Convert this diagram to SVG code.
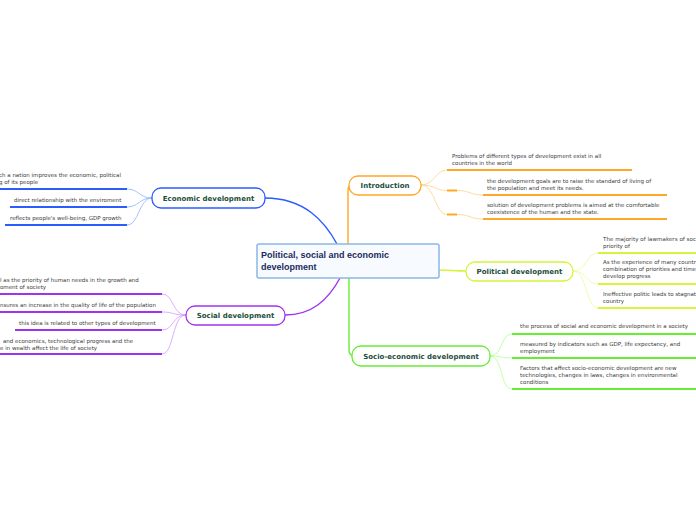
<svg xmlns="http://www.w3.org/2000/svg" width="696" height="520" viewBox="0 0 696 520">
<style>
.bg{fill:#ffffff}
.leaf{font-family:"DejaVu Sans",Verdana,sans-serif;font-size:5.5px;fill:#3c3c3c}
.lbl{font-family:"DejaVu Sans",Verdana,sans-serif;font-size:7px;font-weight:bold;fill:#1d4d3b;text-anchor:middle}
.ctr{font-family:"Liberation Sans",Arial,sans-serif;font-size:9px;font-weight:bold;fill:#1d2a5c}
.node{fill:#ffffff;stroke-width:1.3}
.main{fill:none;stroke-width:1.4}
.thin{fill:none;stroke-width:0.8}
.ul{fill:none;stroke-width:2}
.blue{stroke:#2a5cff}.blueL{stroke:#8fb0ff}
.org{stroke:#ffa726}.orgL{stroke:#ffd28a}
.yg{stroke:#d4f53a}.ygL{stroke:#e8fb9a}
.grn{stroke:#66ee33}.grnL{stroke:#b0ff90}
.pur{stroke:#a033ee}.purL{stroke:#d49bff}
</style>
<rect class="bg" width="696" height="520"/>
<g id="connectors">
  <path class="main blue" d="M265,198 C305,198 325,222 337,244"/>
  <path class="main org" d="M348,244 L348,190 Q348,185 353,185"/>
  <path class="main yg" d="M439,270 C450,270 455,271 466,271"/>
  <path class="main grn" d="M349,278 L349,350 Q349,356 355,356"/>
  <path class="main pur" d="M340,278 C328,300 312,315 285,315"/>
  <path class="thin blueL" d="M152,198 C139,198 139,189 127,189"/>
  <path class="thin blueL" d="M152,198 C139,198 139,207 127,207"/>
  <path class="thin blueL" d="M152,198 C139,198 139,225 127,225"/>
  <path class="ul blue" d="M0,189 H127 M10,207 H127 M5,225 H127"/>
  <path class="thin purL" d="M186,315 C172,315 174,294 162,294"/>
  <path class="thin purL" d="M186,315 C172,315 174,312 162,312"/>
  <path class="thin purL" d="M186,315 C172,315 174,330 162,330"/>
  <path class="thin purL" d="M186,315 C172,315 174,354 162,354"/>
  <path class="ul pur" d="M0,294 H162 M0,312 H162 M15,330 H162 M0,354 H162"/>
  <path class="thin orgL" d="M421,185 C435,185 435,170 447,170"/>
  <path class="thin orgL" d="M421,185 C435,185 435,190.5 447,190.5"/>
  <path class="thin orgL" d="M421,185 C435,185 435,214.5 447,214.5"/>
  <path class="thin orgL" d="M457,190.5 C470,190.5 470,195 483,195"/>
  <path class="thin orgL" d="M457,214.5 C470,214.5 470,219 483,219"/>
  <path class="ul org" d="M447,170 H632 M447,190.5 H457 M447,214.5 H457 M483,195 H667 M483,219 H667"/>
  <path class="thin ygL" d="M573,271 C587,271 586,253 598,253"/>
  <path class="thin ygL" d="M573,271 C587,271 586,284 598,284"/>
  <path class="thin ygL" d="M573,271 C587,271 586,308 598,308"/>
  <path class="ul yg" d="M598,253 H696 M598,284 H696 M598,308 H696"/>
  <path class="thin grnL" d="M490,356 C503,356 500,334 512,334"/>
  <path class="thin grnL" d="M490,356 C503,356 500,358 512,358"/>
  <path class="thin grnL" d="M490,356 C503,356 500,389 512,389"/>
  <path class="ul grn" d="M512,334 H696 M512,358 H696 M512,389 H696"/>
</g>
<g id="center">
  <rect x="257" y="244" width="182" height="34" rx="2" fill="#f7fbff" stroke="#8ab8e6" stroke-width="1.5"/>
  <text class="ctr" x="261" y="258">Political, social and economic</text>
  <text class="ctr" x="261" y="270">development</text>
</g>
<g id="economic">
  <rect class="node blue" x="152" y="188" width="113" height="20" rx="9"/>
  <text class="lbl" x="208.5" y="200.5">Economic development</text>
  <text class="leaf" x="-1" y="177">ch a nation improves the economic, political</text>
  <text class="leaf" x="-1" y="184">g of its people</text>
  <text class="leaf" x="14" y="202">direct relationship with the enviroment</text>
  <text class="leaf" x="10" y="219.5">reflects people's well-being, GDP growth</text>
</g>
<g id="social">
  <rect class="node pur" x="186" y="306" width="99" height="19" rx="9"/>
  <text class="lbl" x="235.5" y="318">Social development</text>
  <text class="leaf" x="0" y="282">l as the priority of human needs in the growth and</text>
  <text class="leaf" x="0" y="289">oment of society</text>
  <text class="leaf" x="0" y="307">nsures an increase in the quality of life of the population</text>
  <text class="leaf" x="19" y="324.5">this idea is related to other types of development</text>
  <text class="leaf" x="3" y="343">and economics, technological progress and the</text>
  <text class="leaf" x="0" y="349.5">e in wealth affect the life of society</text>
</g>
<g id="introduction">
  <rect class="node org" x="349" y="176" width="72" height="19" rx="9"/>
  <text class="lbl" x="385" y="188">Introduction</text>
  <text class="leaf" x="452" y="158">Problems of different types of development exist in all</text>
  <text class="leaf" x="452" y="165">countries in the world</text>
  <text class="leaf" x="487" y="183">the development goals are to raise the standard of living of</text>
  <text class="leaf" x="487" y="190">the population and meet its needs.</text>
  <text class="leaf" x="487" y="207">solution of development problems is aimed at the comfortable</text>
  <text class="leaf" x="487" y="214">coexistence of the human and the state.</text>
</g>
<g id="political">
  <rect class="node yg" x="466" y="262" width="107" height="19" rx="9"/>
  <text class="lbl" x="519.5" y="274">Political development</text>
  <text class="leaf" x="603" y="241" textLength="93">The majority of lawmakers of soc</text>
  <text class="leaf" x="603" y="247.5">priority of</text>
  <text class="leaf" x="603" y="264" textLength="93">As the experience of many countr</text>
  <text class="leaf" x="603" y="271" textLength="93">combination of priorities and time</text>
  <text class="leaf" x="603" y="277.5">develop progress</text>
  <text class="leaf" x="603" y="296" textLength="93">Ineffective politic leads to stagnat</text>
  <text class="leaf" x="603" y="302.5">country</text>
</g>
<g id="socioeconomic">
  <rect class="node grn" x="352" y="346" width="138" height="20" rx="9"/>
  <text class="lbl" x="421" y="358.5">Socio-economic development</text>
  <text class="leaf" x="520" y="328">the process of social and economic development in a society</text>
  <text class="leaf" x="520" y="346">measured by indicators such as GDP, life expectancy, and</text>
  <text class="leaf" x="520" y="353">employment</text>
  <text class="leaf" x="520" y="370">Factors that affect socio-economic development are new</text>
  <text class="leaf" x="520" y="377">technologies, changes in laws, changes in environmental</text>
  <text class="leaf" x="520" y="384">conditions</text>
</g>
</svg>
